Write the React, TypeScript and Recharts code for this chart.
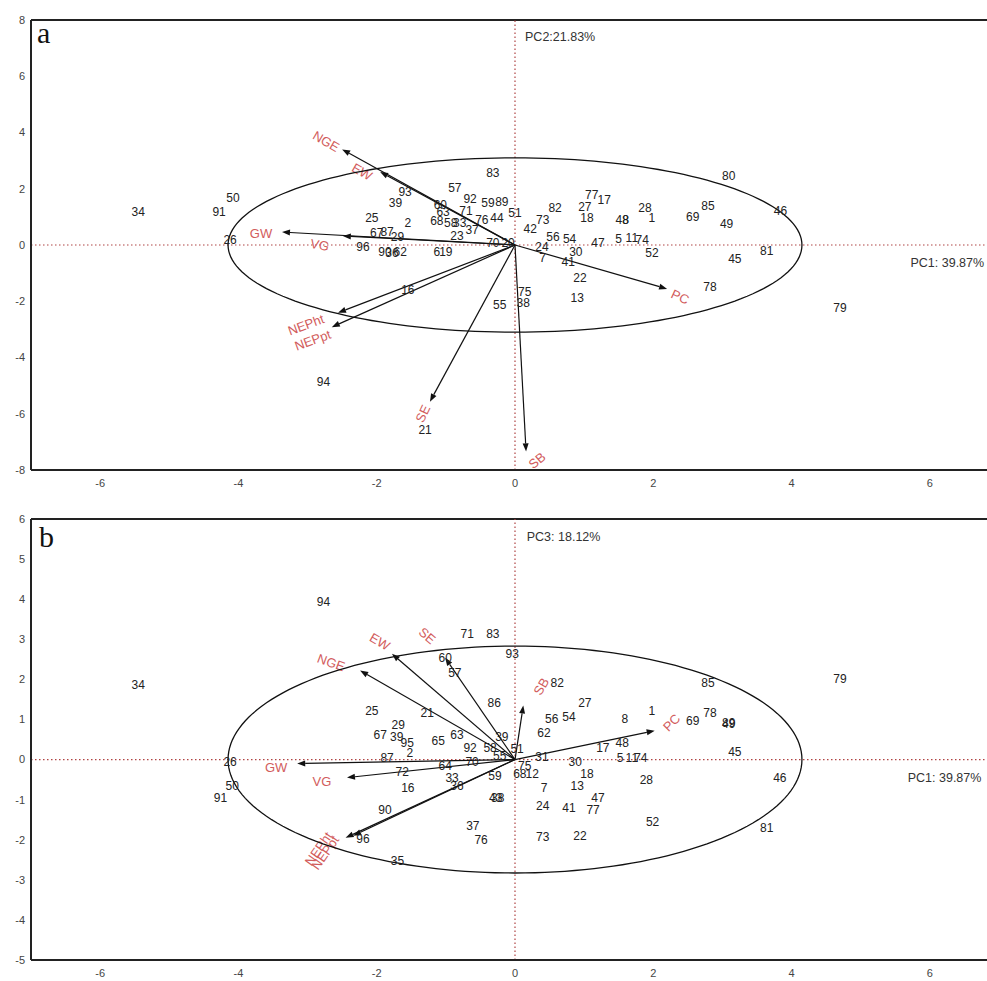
import React from 'react';
import { ScatterChart, Scatter, XAxis, YAxis, ReferenceLine } from 'recharts';

type Pt = { x: number; y: number; label: string };
type Vec = { name: string; x: number; y: number };

const xTicks = [-6, -4, -2, 0, 2, 4, 6];
const yTicksA = [-8, -6, -4, -2, 0, 2, 4, 6, 8];
const yTicksB = [-5, -4, -3, -2, -1, 0, 1, 2, 3, 4, 5, 6];

const pointsA: Pt[] = [
  { label: '34', x: -5.45, y: 1.17 }, { label: '50', x: -4.08, y: 1.67 }, { label: '91', x: -4.28, y: 1.17 },
  { label: '26', x: -4.12, y: 0.18 }, { label: '94', x: -2.77, y: -4.86 }, { label: '16', x: -1.55, y: -1.6 },
  { label: '21', x: -1.3, y: -6.56 }, { label: '55', x: -0.22, y: -2.13 }, { label: '38', x: 0.12, y: -2.06 },
  { label: '75', x: 0.14, y: -1.67 }, { label: '13', x: 0.9, y: -1.88 }, { label: '22', x: 0.94, y: -1.17 },
  { label: '41', x: 0.77, y: -0.6 }, { label: '30', x: 0.88, y: -0.25 }, { label: '7', x: 0.4, y: -0.46 },
  { label: '24', x: 0.39, y: -0.07 }, { label: '54', x: 0.79, y: 0.21 }, { label: '56', x: 0.55, y: 0.28 },
  { label: '47', x: 1.2, y: 0.07 }, { label: '5', x: 1.5, y: 0.21 }, { label: '11', x: 1.69, y: 0.25 },
  { label: '74', x: 1.84, y: 0.18 }, { label: '52', x: 1.98, y: -0.28 }, { label: '45', x: 3.18, y: -0.5 },
  { label: '81', x: 3.64, y: -0.21 }, { label: '78', x: 2.82, y: -1.49 }, { label: '79', x: 4.7, y: -2.23 },
  { label: '80', x: 3.09, y: 2.45 }, { label: '85', x: 2.79, y: 1.38 }, { label: '69', x: 2.57, y: 0.99 },
  { label: '49', x: 3.06, y: 0.74 }, { label: '46', x: 3.84, y: 1.21 }, { label: '28', x: 1.88, y: 1.3 },
  { label: '1', x: 1.98, y: 0.96 }, { label: '48', x: 1.55, y: 0.89 }, { label: '8', x: 1.6, y: 0.89 },
  { label: '77', x: 1.11, y: 1.77 }, { label: '17', x: 1.29, y: 1.6 }, { label: '27', x: 1.01, y: 1.35 },
  { label: '18', x: 1.04, y: 0.96 }, { label: '82', x: 0.58, y: 1.3 }, { label: '73', x: 0.4, y: 0.89 },
  { label: '42', x: 0.22, y: 0.57 }, { label: '51', x: 0.0, y: 1.13 }, { label: '83', x: -0.32, y: 2.55 },
  { label: '57', x: -0.87, y: 2.02 }, { label: '92', x: -0.65, y: 1.63 }, { label: '59', x: -0.39, y: 1.49 },
  { label: '89', x: -0.19, y: 1.52 }, { label: '44', x: -0.26, y: 0.96 }, { label: '71', x: -0.71, y: 1.21 },
  { label: '76', x: -0.48, y: 0.89 }, { label: '60', x: -1.08, y: 1.42 }, { label: '63', x: -1.04, y: 1.17 },
  { label: '68', x: -1.13, y: 0.85 }, { label: '58', x: -0.93, y: 0.78 }, { label: '33', x: -0.8, y: 0.78 },
  { label: '37', x: -0.62, y: 0.53 }, { label: '23', x: -0.84, y: 0.32 }, { label: '29', x: -1.7, y: 0.28 },
  { label: '67', x: -2.0, y: 0.43 }, { label: '87', x: -1.85, y: 0.45 }, { label: '25', x: -2.07, y: 0.96 },
  { label: '2', x: -1.55, y: 0.78 }, { label: '39', x: -1.73, y: 1.49 }, { label: '93', x: -1.59, y: 1.88 },
  { label: '96', x: -2.2, y: -0.07 }, { label: '90', x: -1.88, y: -0.25 }, { label: '62', x: -1.66, y: -0.25 },
  { label: '36', x: -1.78, y: -0.3 }, { label: '6', x: -1.13, y: -0.25 }, { label: '19', x: -1.0, y: -0.25 },
  { label: '70', x: -0.32, y: 0.07 }, { label: '20', x: -0.1, y: 0.07 },
];

const pointsB: Pt[] = [
  { label: '34', x: -5.45, y: 1.85 }, { label: '94', x: -2.77, y: 3.92 }, { label: '26', x: -4.12, y: -0.07 },
  { label: '50', x: -4.09, y: -0.65 }, { label: '91', x: -4.26, y: -0.97 }, { label: '71', x: -0.69, y: 3.12 },
  { label: '83', x: -0.32, y: 3.14 }, { label: '93', x: -0.04, y: 2.64 }, { label: '60', x: -1.01, y: 2.54 },
  { label: '57', x: -0.87, y: 2.17 }, { label: '82', x: 0.61, y: 1.92 }, { label: '27', x: 1.01, y: 1.42 },
  { label: '56', x: 0.53, y: 1.02 }, { label: '54', x: 0.78, y: 1.05 }, { label: '8', x: 1.59, y: 1.02 },
  { label: '1', x: 1.98, y: 1.22 }, { label: '86', x: -0.3, y: 1.4 }, { label: '25', x: -2.07, y: 1.22 },
  { label: '21', x: -1.27, y: 1.17 }, { label: '29', x: -1.69, y: 0.85 }, { label: '85', x: 2.79, y: 1.9 },
  { label: '79', x: 4.7, y: 2.0 }, { label: '78', x: 2.82, y: 1.15 }, { label: '69', x: 2.57, y: 0.95 },
  { label: '89', x: 3.09, y: 0.92 }, { label: '49', x: 3.09, y: 0.88 }, { label: '45', x: 3.18, y: 0.2 },
  { label: '46', x: 3.83, y: -0.45 }, { label: '81', x: 3.64, y: -1.7 }, { label: '52', x: 1.99, y: -1.55 },
  { label: '28', x: 1.9, y: -0.52 }, { label: '74', x: 1.82, y: 0.05 }, { label: '5', x: 1.52, y: 0.05 },
  { label: '11', x: 1.69, y: 0.05 }, { label: '17', x: 1.27, y: 0.3 }, { label: '48', x: 1.55, y: 0.42 },
  { label: '30', x: 0.87, y: -0.07 }, { label: '18', x: 1.04, y: -0.35 }, { label: '13', x: 0.9, y: -0.65 },
  { label: '47', x: 1.2, y: -0.95 }, { label: '77', x: 1.13, y: -1.25 }, { label: '41', x: 0.78, y: -1.22 },
  { label: '24', x: 0.4, y: -1.15 }, { label: '7', x: 0.42, y: -0.72 }, { label: '22', x: 0.94, y: -1.9 },
  { label: '73', x: 0.4, y: -1.94 }, { label: '37', x: -0.61, y: -1.67 }, { label: '76', x: -0.49, y: -2.0 },
  { label: '38', x: -0.25, y: -0.97 }, { label: '43', x: -0.28, y: -0.97 }, { label: '59', x: -0.29, y: -0.4 },
  { label: '68', x: 0.07, y: -0.35 }, { label: '12', x: 0.25, y: -0.35 }, { label: '75', x: 0.14, y: -0.15 },
  { label: '31', x: 0.39, y: 0.07 }, { label: '62', x: 0.42, y: 0.67 }, { label: '39', x: -0.19, y: 0.55 },
  { label: '92', x: -0.65, y: 0.3 }, { label: '58', x: -0.36, y: 0.3 }, { label: '55', x: -0.22, y: 0.1 },
  { label: '51', x: 0.03, y: 0.27 }, { label: '65', x: -1.11, y: 0.47 }, { label: '63', x: -0.84, y: 0.6 },
  { label: '67', x: -1.95, y: 0.6 }, { label: '39', x: -1.71, y: 0.55 }, { label: '95', x: -1.56, y: 0.42 },
  { label: '2', x: -1.52, y: 0.17 }, { label: '87', x: -1.85, y: 0.05 }, { label: '64', x: -1.01, y: -0.15 },
  { label: '70', x: -0.62, y: -0.05 }, { label: '72', x: -1.63, y: -0.32 }, { label: '16', x: -1.55, y: -0.7 },
  { label: '33', x: -0.91, y: -0.47 }, { label: '36', x: -0.84, y: -0.65 }, { label: '90', x: -1.88, y: -1.25 },
  { label: '96', x: -2.2, y: -1.97 }, { label: '35', x: -1.7, y: -2.54 },
];

const vectorsA: Vec[] = [
  { name: 'NGE', x: -2.5, y: 3.4 }, { name: 'EW', x: -1.95, y: 2.6 }, { name: 'GW', x: -3.37, y: 0.46 },
  { name: 'VG', x: -2.49, y: 0.32 }, { name: 'NEPht', x: -2.56, y: -2.41 }, { name: 'NEPpt', x: -2.65, y: -2.92 },
  { name: 'SE', x: -1.23, y: -5.57 }, { name: 'SB', x: 0.16, y: -7.34 }, { name: 'PC', x: 2.2, y: -1.56 },
];

const vectorsB: Vec[] = [
  { name: 'NGE', x: -2.24, y: 2.22 }, { name: 'EW', x: -1.78, y: 2.64 }, { name: 'SE', x: -1.01, y: 2.54 },
  { name: 'SB', x: 0.12, y: 1.35 }, { name: 'PC', x: 2.02, y: 0.72 }, { name: 'GW', x: -3.15, y: -0.1 },
  { name: 'VG', x: -2.43, y: -0.45 }, { name: 'NEPht', x: -2.45, y: -1.95 }, { name: 'NEPpt', x: -2.34, y: -1.9 },
];

const annotA = [
  { x: 0.145, y: 7.38, label: 'PC2:21.83%' },
  { x: 5.72, y: -0.64, label: 'PC1: 39.87%' },
];
const annotB = [
  { x: 0.17, y: 5.54, label: 'PC3: 18.12%' },
  { x: 5.68, y: -0.45, label: 'PC1: 39.87%' },
];

const ellipseRadiiA = { rx: 4.15, ry: 3.1 };
const ellipseRadiiB = { rx: 4.15, ry: 2.83 };

const labelStyleA: Record<string, { dx: number; dy: number; rot: number }> = {
  NGE: { dx: -16, dy: -8, rot: 30 }, EW: { dx: -18, dy: 0, rot: 30 }, GW: { dx: -21, dy: 1, rot: 0 },
  VG: { dx: -23, dy: 9, rot: 10 }, NEPht: { dx: -32, dy: 12, rot: -20 }, NEPpt: { dx: -19, dy: 13, rot: -20 },
  SE: { dx: -7, dy: 12, rot: -65 }, SB: { dx: 11, dy: 9, rot: -40 }, PC: { dx: 13, dy: 8, rot: 25 },
};
const labelStyleB: Record<string, { dx: number; dy: number; rot: number }> = {
  NGE: { dx: -29, dy: -8, rot: 20 }, EW: { dx: -12, dy: -12, rot: 30 }, SE: { dx: -18, dy: -22, rot: 40 },
  SB: { dx: 18, dy: -19, rot: -60 }, PC: { dx: 17, dy: -8, rot: -45 }, GW: { dx: -21, dy: 4, rot: 0 },
  VG: { dx: -25, dy: 4, rot: 0 }, NEPht: { dx: -27, dy: 11, rot: -55 }, NEPpt: { dx: -28, dy: 17, rot: -55 },
};

function ellipsePoints(r: { rx: number; ry: number }) {
  const out: { x: number; y: number }[] = [];
  for (let i = 0; i <= 180; i++) {
    const t = (i / 180) * Math.PI * 2;
    out.push({ x: r.rx * Math.cos(t), y: r.ry * Math.sin(t) });
  }
  return out;
}

const FONT = '"Liberation Sans", Arial, sans-serif';

function Arrow(props: any) {
  const { x1, y1, x2, y2, name, st } = props;
  const dx = x2 - x1;
  const dy = y2 - y1;
  const len = Math.hypot(dx, dy) || 1;
  const ux = dx / len;
  const uy = dy / len;
  const hl = 8;
  const hw = 3;
  const bx = x2 - ux * hl;
  const by = y2 - uy * hl;
  const pts = `${x2},${y2} ${bx - uy * hw},${by + ux * hw} ${bx + uy * hw},${by - ux * hw}`;
  const lx = x2 + st.dx;
  const ly = y2 + st.dy;
  return (
    <g>
      <line x1={x1} y1={y1} x2={bx} y2={by} stroke="#111" strokeWidth={1.2} />
      <polygon points={pts} fill="#111" />
      <text x={lx} y={ly} transform={`rotate(${st.rot} ${lx} ${ly})`} textAnchor="middle"
        dominantBaseline="central" fontSize={13} fill="#d25c5c" fontFamily={FONT}>{name}</text>
    </g>
  );
}

const PointLabel = (p: any) => (
  <text x={p.cx} y={p.cy} textAnchor="middle" dominantBaseline="central" fontSize={12}
    fill="#222" fontFamily={FONT}>{p.payload.label}</text>
);

const AnnotLabel = (p: any) => (
  <text x={p.cx} y={p.cy} textAnchor="start" dominantBaseline="central" fontSize={12.5}
    fill="#333" fontFamily={FONT}>{p.payload.label}</text>
);

const NoShape = () => <g />;

function Panel(props: {
  height: number; yDomain: [number, number]; yTicks: number[]; points: Pt[]; vectors: Vec[];
  annot: { x: number; y: number; label: string }[]; radii: { rx: number; ry: number };
  styles: Record<string, { dx: number; dy: number; rot: number }>; xAxisHeight: number;
}) {
  const { height, yDomain, yTicks, points, vectors, annot, radii, styles, xAxisHeight } = props;
  const tickStyle = { fontSize: 11, fill: '#444', fontFamily: FONT };
  return (
    <ScatterChart width={999} height={height} margin={{ top: 20, right: 0, bottom: 0, left: 0 }}>
      <XAxis type="number" dataKey="x" domain={[-7, 7]} ticks={xTicks} allowDataOverflow
        height={xAxisHeight} tickLine={false} tickSize={7} tickMargin={2}
        axisLine={{ stroke: '#222', strokeWidth: 2 }} tick={tickStyle} interval={0} />
      <YAxis type="number" dataKey="y" domain={yDomain} ticks={yTicks} allowDataOverflow width={31}
        tickLine={false} tickSize={4} tickMargin={2} axisLine={{ stroke: '#222', strokeWidth: 2 }}
        tick={tickStyle} interval={0} />
      <ReferenceLine y={yDomain[1]} stroke="#222" strokeWidth={2} ifOverflow="visible" />
      <ReferenceLine x={0} stroke="#b04444" strokeDasharray="1.5 2.5" strokeWidth={1.2} />
      <ReferenceLine y={0} stroke="#b04444" strokeDasharray="1.5 2.5" strokeWidth={1.2} />
      <Scatter data={ellipsePoints(radii)} line={{ stroke: '#111', strokeWidth: 1.3 }} shape={NoShape}
        isAnimationActive={false} />
      {vectors.map((v) => (
        <ReferenceLine key={v.name} segment={[{ x: 0, y: 0 }, { x: v.x, y: v.y }]} ifOverflow="visible"
          shape={(p: any) => <Arrow {...p} name={v.name} st={styles[v.name]} />} />
      ))}
      <Scatter data={points} shape={PointLabel} isAnimationActive={false} />
      <Scatter data={annot} shape={AnnotLabel} isAnimationActive={false} />
    </ScatterChart>
  );
}

export default function App() {
  const letter: React.CSSProperties = {
    position: 'absolute', fontFamily: '"Liberation Serif", "Times New Roman", serif', fontSize: 30,
    lineHeight: '30px', color: '#111',
  };
  return (
    <div style={{ position: 'absolute', left: 0, top: 0, width: 987, height: 981, overflow: 'hidden', background: '#fff' }}>
      <div style={{ position: 'absolute', left: 0, top: 0 }}>
        <Panel height={490} yDomain={[-8, 8]} yTicks={yTicksA} points={pointsA} vectors={vectorsA}
          annot={annotA} radii={ellipseRadiiA} styles={labelStyleA} xAxisHeight={20} />
      </div>
      <div style={{ position: 'absolute', left: 0, top: 499 }}>
        <Panel height={482} yDomain={[-5, 6]} yTicks={yTicksB} points={pointsB} vectors={vectorsB}
          annot={annotB} radii={ellipseRadiiB} styles={labelStyleB} xAxisHeight={21} />
      </div>
      <div style={{ ...letter, left: 37, top: 18 }}>a</div>
      <div style={{ ...letter, left: 39, top: 522 }}>b</div>
    </div>
  );
}
